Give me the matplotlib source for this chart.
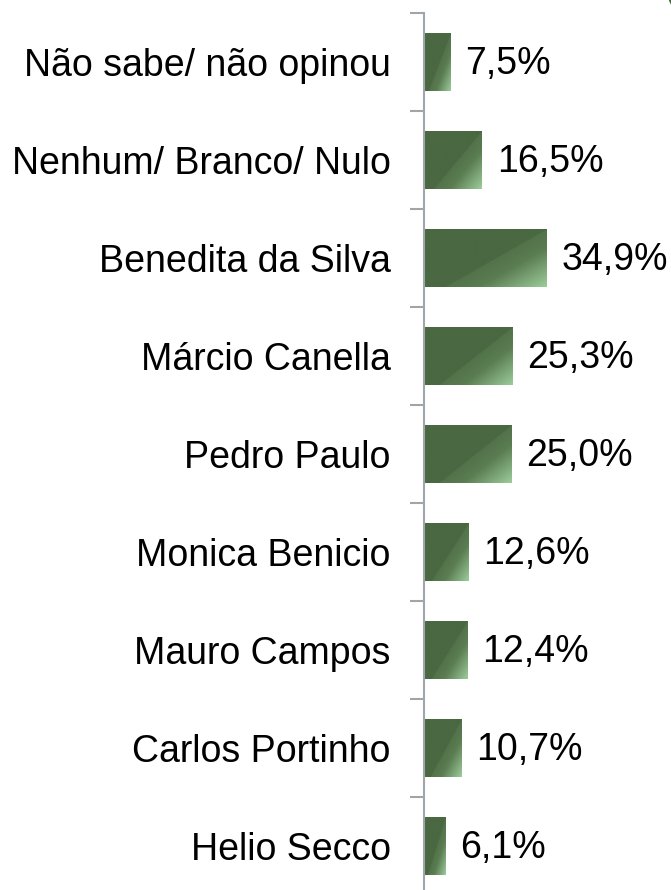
import numpy as np
import matplotlib.pyplot as plt
from matplotlib.colors import LinearSegmentedColormap
from matplotlib.patches import Circle

plt.rcParams['font.family'] = ['Liberation Sans', 'DejaVu Sans']

categories = ['Não sabe/ não opinou', 'Nenhum/ Branco/ Nulo', 'Benedita da Silva',
              'Márcio Canella', 'Pedro Paulo', 'Monica Benicio', 'Mauro Campos',
              'Carlos Portinho', 'Helio Secco']
values = [7.5, 16.5, 34.9, 25.3, 25.0, 12.6, 12.4, 10.7, 6.1]
value_labels = ['7,5%', '16,5%', '34,9%', '25,3%', '25,0%', '12,6%', '12,4%', '10,7%', '6,1%']

W, H = 671, 890
fig = plt.figure(figsize=(W / 100, H / 100), dpi=100)
# axes: spine at x=424, ticks from y=13 down to ~895 (cut by the figure edge)
ax = fig.add_axes([424 / W, 1 - 895 / H, (W - 424) / W, (895 - 13) / H])

n = len(categories)
y = np.arange(n)
bar_h = 0.59

cmap = LinearSegmentedColormap.from_list('g', ['#4a6841', '#4a6841', '#5b7d52', '#9ccc9a'])
gx, gy = np.meshgrid(np.linspace(0, 1, 200), np.linspace(0, 1, 60))
# diagonal gradient: light only in the lower-right corner
grad = np.clip((gx * 0.55 + gy * 0.45 - 0.55) / 0.45, 0, 1)
grad = np.where(grad > 0, 0.5 + 0.5 * grad, 0)

for yi, v, lab in zip(y, values, value_labels):
    ax.imshow(grad, cmap=cmap, vmin=0, vmax=1, aspect='auto', origin='upper',
              extent=(0, v, yi + bar_h / 2, yi - bar_h / 2), interpolation='bilinear', zorder=2)
    ax.text(v + 4.3, yi + 0.02, lab, va='center', ha='left', fontsize=27, color='black')

ax.set_xlim(0, (W - 424) / 3.5)
ax.set_ylim(n - 0.5, -0.5)
ax.set_yticks(np.arange(n + 1) - 0.5)
ax.set_yticklabels([])
ax.set_yticks(y, minor=True)
ax.set_yticklabels(categories, minor=True, fontsize=27)
ax.tick_params(axis='y', which='minor', length=0, pad=24)
ax.tick_params(axis='y', which='major', length=10, width=1.5, color='#a0a4ab')
ax.set_xticks([])
for s in ['top', 'right', 'bottom']:
    ax.spines[s].set_visible(False)
ax.spines['left'].set_color('#a0a4ab')
ax.spines['left'].set_linewidth(1.5)

# bit of a logo peeking in at the top-right corner
fig.patches.append(Circle((700 / W, 1 + 20 / H), 32 / W, transform=fig.transFigure,
                          fill=False, edgecolor='#4a6841', linewidth=4))

fig.savefig('out.png', dpi=100)
